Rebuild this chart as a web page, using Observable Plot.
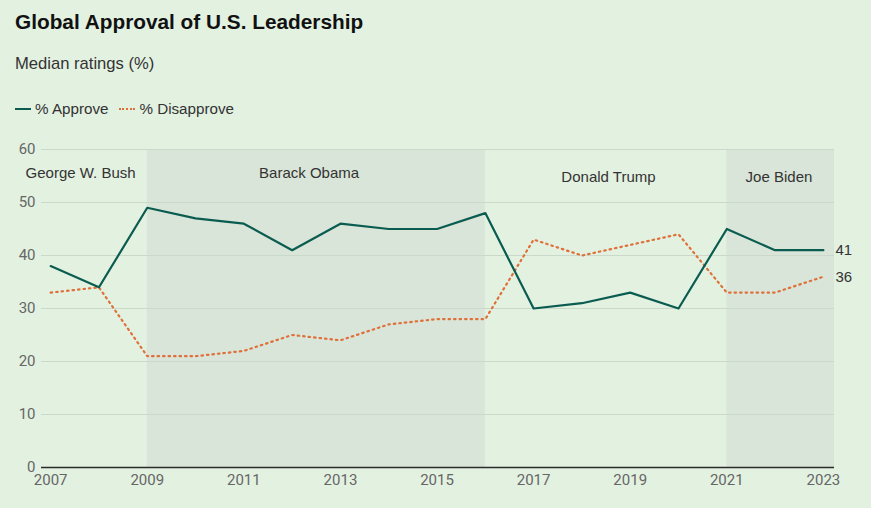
<!DOCTYPE html>
<html>
<head>
<meta charset="utf-8">
<script src="https://cdn.jsdelivr.net/npm/d3@7"></script>
<script src="https://cdn.jsdelivr.net/npm/@observablehq/plot@0.6"></script>
<style>
  html, body { margin: 0; padding: 0; background: #e3f1e1; width: 871px; height: 508px; overflow: hidden; }
  body { font-family: "Liberation Sans", Arial, sans-serif; color: #111; }
  #title { position: absolute; left: 15px; top: 10px; font-size: 20.8px; font-weight: bold; }
  #subtitle { position: absolute; left: 15px; top: 54px; font-size: 16.6px; color: #333; }
  #legend { position: absolute; left: 15px; top: 100px; font-size: 15.2px; color: #333; display: flex; align-items: center; }
  .sw { display: inline-block; width: 16px; height: 0; margin-right: 4px; }
  .item { display: flex; align-items: center; margin-right: 11px; }
  #chart { position: absolute; left: 0; top: 130px; }
</style>
</head>
<body>
<div id="title">Global Approval of U.S. Leadership</div>
<div id="subtitle">Median ratings (%)</div>
<div id="legend">
  <span class="item"><span class="sw" style="border-top:2.5px solid #0b5c50"></span>% Approve</span>
  <span class="item"><span class="sw" style="border-top:2.5px dotted #e0703a"></span>% Disapprove</span>
</div>
<div id="chart"></div>
<script>
const years = [2007,2008,2009,2010,2011,2012,2013,2014,2015,2016,2017,2018,2019,2020,2021,2022,2023];
const approve = [38,34,49,47,46,41,46,45,45,48,30,31,33,30,45,41,41];
const disapprove = [33,34,21,21,22,25,24,27,28,28,43,40,42,44,33,33,36];

const xDomain = [2006.81, 2023.23];
const presidents = ["George W. Bush", "Barack Obama", "Donald Trump", "Joe Biden"];
const termStart = [2006.81, 2009, 2016, 2021];
const termEnd = [2009, 2016, 2021, 2023.23];
const shaded = [false, true, false, true];
const labelX = [2007.62, 2012.35, 2018.55, 2022.08];
const labelY = [55.5, 55.6, 54.8, 54.8];
const yTicks = [0,10,20,30,40,50,60];
const xTicks = [2007,2009,2011,2013,2015,2017,2019,2021,2023];

const terms = presidents.map((p,i)=>({name:p, x1:termStart[i], x2:termEnd[i], shaded:shaded[i], lx:labelX[i], ly:labelY[i]}));
const dataA = years.map((y,i)=>({year:y, v:approve[i]}));
const dataD = years.map((y,i)=>({year:y, v:disapprove[i]}));
const last = years.length-1;

const chart = Plot.plot({
  width: 871,
  height: 378,
  marginLeft: 41,
  marginRight: 37,
  marginTop: 19,
  marginBottom: 41,
  style: { background: "transparent", fontFamily: "'Liberation Sans Narrow', 'Roboto', sans-serif", fontSize: "15px", color: "#666" },
  x: { domain: xDomain, ticks: xTicks, tickFormat: d => String(d), tickSize: 0, tickPadding: 7, label: null },
  y: { domain: [0, 60], ticks: yTicks, tickSize: 0, tickPadding: 6, label: null },
  marks: [
    Plot.rectY(terms.filter(d=>d.shaded), {x1:"x1", x2:"x2", y1:0, y2:60, fill:"#d9e5d8"}),
    Plot.ruleY(yTicks.filter(d=>d>0), {stroke:"#cbd9ca", strokeWidth:1}),
    Plot.ruleY([0], {stroke:"#2b2b2b", strokeWidth:1.5}),
    Plot.text(terms, {x:"lx", y:"ly", text:"name", fill:"#333", fontSize:15, fontFamily:"'Liberation Sans', Arial, sans-serif"}),
    Plot.line(dataD, {x:"year", y:"v", stroke:"#e0703a", strokeWidth:2.2, strokeDasharray:"1.5 4", strokeLinecap:"round"}),
    Plot.line(dataA, {x:"year", y:"v", stroke:"#0b5c50", strokeWidth:2.2}),
    Plot.text([dataA[last]], {x:"year", y:"v", text:d=>String(d.v), dx:12, textAnchor:"start", fill:"#333", fontSize:15, fontFamily:"'Liberation Sans', Arial, sans-serif"}),
    Plot.text([dataD[last]], {x:"year", y:"v", text:d=>String(d.v), dx:12, textAnchor:"start", fill:"#333", fontSize:15, fontFamily:"'Liberation Sans', Arial, sans-serif"})
  ]
});
document.getElementById("chart").appendChild(chart);
</script>
</body>
</html>
